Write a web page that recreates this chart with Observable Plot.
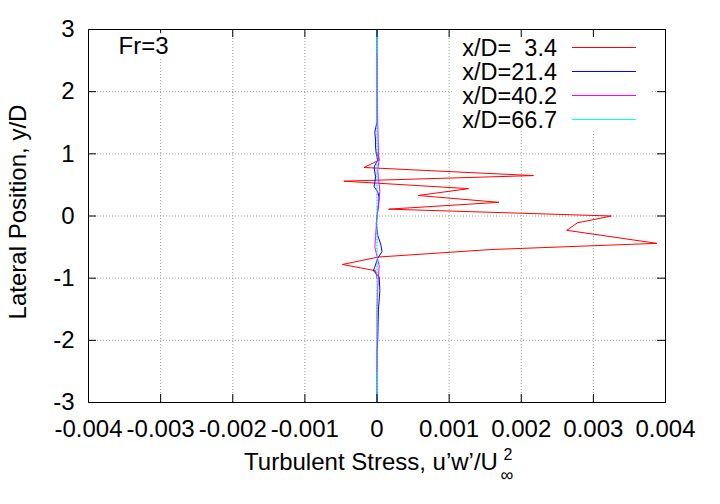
<!DOCTYPE html>
<html><head><meta charset="utf-8">
<script src="https://cdn.jsdelivr.net/npm/d3@7"></script>
<script src="https://cdn.jsdelivr.net/npm/@observablehq/plot@0.6"></script>
<style>
body{margin:0;background:#fff;}
svg text{white-space:pre;}
</style></head><body><div id="chart"></div>
<script>
const series = ["x/D=  3.4", "x/D=21.4", "x/D=40.2", "x/D=66.7"];
const colors = ["#ff0000", "#0000ff", "#ff00ff", "#00ffff"];

// x/D = 3.4
const redY = [1.02, 0.90, 0.78, 0.65, 0.56, 0.44, 0.33, 0.22, 0.11, 0.00, -0.11, -0.23, -0.44, -0.54, -0.66, -0.78, -0.88, -1.0];
const redX = [0, 0.00003, -0.00018, 0.00217, -0.00046, 0.00127, 0.00057, 0.00169, 0.00016, 0.00325, 0.00278, 0.00263, 0.00388, 0.00157, 0.00002, -0.00048, -0.00002, 0];
// x/D = 21.4
const blueY = [3.0, 1.5, 1.46, 1.35, 1.22, 1.11, 1.0, 0.9, 0.79, 0.63, 0.47, 0.39, 0.3, 0.15, 0.0, -0.12, -0.31, -0.45, -0.57, -0.68, -0.82, -0.88, -0.98, -1.2, -1.5, -2.0, -2.2, -3.0];
const blueX = [0, 0, -0.00001, -0.00003, -0.00002, -0.00002, -0.00001, 0.00001, -0.00004, -0.00002, -0.00004, 0.00001, 0.00003, 0.00002, 0, -0.00001, 0.00001, 0.00005, 0.00007, 0.00001, -0.00003, -0.00005, 0.00003, 0.00004, 0.00002, 0.00001, 0, 0];
// x/D = 40.2
const magY = [2.6, 1.5, 1.0, 0.9, 0.75, 0.6, 0.4, 0.2, 0.0, -0.33, -0.5, -0.65, -0.8, -0.98, -1.15, -1.5, -2.5];
const magX = [0, 0.00001, 0.00002, 0.00003, 0.00001, 0.00002, 0.00004, 0.00002, 0, -0.00002, -0.00003, 0, 0.00003, 0.00002, 0.00001, 0, 0];
// x/D = 66.7
const cyanY = [3.0, 1.0, 0.0, -1.0, -3.0];
const cyanX = [0, 0, 0, 0, 0];

const xTicks = [-0.004, -0.003, -0.002, -0.001, 0, 0.001, 0.002, 0.003, 0.004];
const yTicks = [-3, -2, -1, 0, 1, 2, 3];
const xLabel = "Turbulent Stress, u\u2019w\u2019/U";
const xLabelSup = "2";
const xLabelSub = "\u221e";
const yLabel = "Lateral Position, y/D";
const note = "Fr=3";

const make = (s, xs, ys) => xs.map((x, i) => ({s, x, y: ys[i]}));
const data = [
  ...make(series[0], redX, redY),
  ...make(series[1], blueX, blueY),
  ...make(series[2], magX, magY),
  ...make(series[3], cyanX, cyanY)
];

const innerX = xTicks.slice(1, -1);
const innerY = yTicks.slice(1, -1);

function keyBox(index, scales, values, dims) {
  const right = dims.width - dims.marginRight;
  const g = d3.create("svg:g");
  g.append("rect").attr("x", right - 212).attr("y", dims.marginTop + 1)
    .attr("width", 197).attr("height", 101).style("fill", "#fff").style("stroke", "none");
  return g.node();
}
function keyEntries(index, scales, values, dims) {
  const right = dims.width - dims.marginRight;
  const g = d3.create("svg:g");
  series.forEach((s, i) => {
    const y = Math.round(dims.marginTop + 18 + i * 24) + 0.5;
    g.append("text").attr("x", right - 108).attr("y", y).attr("dy", "0.35em")
      .attr("text-anchor", "end").attr("font-size", 23.5).style("fill", "#000")
      .style("white-space", "pre").text(s);
    g.append("path").attr("d", `M${right - 93},${y}H${right - 29}`)
      .style("stroke", colors[i]).style("stroke-width", "1px").style("fill", "none");
  });
  return g.node();
}

const frameH = 504 - 29 - 102;
const frameW = 720 - 88 - 55;

const chart = Plot.plot({
  width: 720, height: 504,
  marginLeft: 88, marginRight: 55, marginTop: 29, marginBottom: 102,
  x: {domain: [-0.004, 0.004], axis: null},
  y: {domain: [-3, 3], axis: null},
  color: {domain: series, range: colors},
  style: {fontFamily: "'Liberation Sans', Arial, sans-serif", fontSize: "24px", color: "#000", background: "#fff"},
  marks: [
    Plot.gridX(innerX, {stroke: "#a0a0a0", strokeOpacity: 1, strokeDasharray: "1,2"}),
    Plot.gridY(innerY, {stroke: "#a0a0a0", strokeOpacity: 1, strokeDasharray: "1,2"}),
    keyBox,
    Plot.line(data.filter(d => d.s === series[0]), {x: "x", y: "y", stroke: "s", strokeWidth: 1}),
    Plot.line(data.filter(d => d.s === series[1]), {x: "x", y: "y", stroke: "s", strokeWidth: 1}),
    Plot.line(data.filter(d => d.s === series[2]), {x: "x", y: "y", stroke: "s", strokeWidth: 1}),
    Plot.line(data.filter(d => d.s === series[3]), {x: "x", y: "y", stroke: "s", strokeWidth: 1, strokeOpacity: 0.75}),
    Plot.tickX(xTicks, {x: d => d, insetTop: frameH - 8, stroke: "#000"}),
    Plot.tickX(xTicks, {x: d => d, insetBottom: frameH - 8, stroke: "#000"}),
    Plot.tickY(yTicks, {y: d => d, insetRight: frameW - 8, stroke: "#000"}),
    Plot.tickY(yTicks, {y: d => d, insetLeft: frameW - 8, stroke: "#000"}),
    Plot.frame({stroke: "#000", strokeWidth: 1}),
    Plot.axisX(xTicks, {anchor: "bottom", tickSize: 0, tickPadding: 17, fontSize: 24, tickFormat: d => String(d), label: null}),
    Plot.axisY(yTicks, {anchor: "left", tickSize: 0, tickPadding: 14, fontSize: 24, tickFormat: d => String(d), label: null}),
    Plot.text([xLabel], {text: d => d, frameAnchor: "bottom", dx: -6, dy: 60, lineAnchor: "middle", textAnchor: "middle", fontSize: 24}),
    Plot.text([xLabelSup], {text: d => d, frameAnchor: "bottom", dx: 131, dy: 52, lineAnchor: "middle", textAnchor: "middle", fontSize: 16}),
    Plot.text([xLabelSub], {text: d => d, frameAnchor: "bottom", dx: 130, dy: 73, lineAnchor: "middle", textAnchor: "middle", fontSize: 18}),
    Plot.text([yLabel], {text: d => d, frameAnchor: "left", rotate: -90, dx: -70, dy: -4, lineAnchor: "middle", textAnchor: "middle", fontSize: 24}),
    Plot.text([note], {text: d => d, frameAnchor: "top-left", dx: 30, dy: 17, lineAnchor: "middle", textAnchor: "start", fontSize: 24, stroke: "#fff", strokeWidth: 8, fill: "#000"}),
    keyEntries
  ]
});
document.getElementById("chart").appendChild(chart);
</script>
</body></html>
